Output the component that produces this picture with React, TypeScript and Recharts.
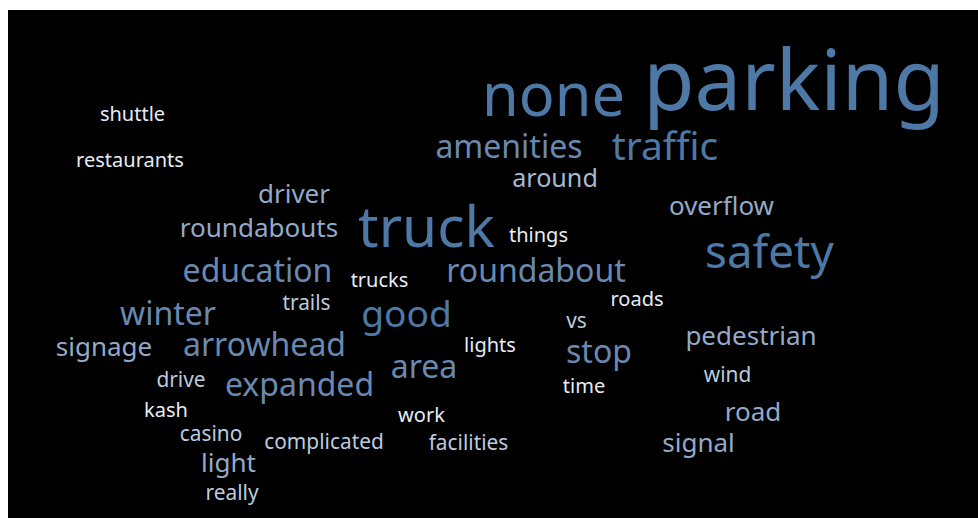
import React from 'react';
import { ScatterChart, Scatter, XAxis, YAxis } from 'recharts';

// word cloud: each word is a point, x = centre, y = baseline
const words = [
  'parking', 'none', 'traffic', 'amenities', 'around', 'shuttle', 'restaurants', 'driver',
  'roundabouts', 'education', 'truck', 'things', 'trucks', 'roundabout', 'good', 'safety',
  'overflow', 'roads', 'vs', 'stop', 'time', 'pedestrian', 'wind', 'road', 'signal',
  'winter', 'trails', 'signage', 'arrowhead', 'drive', 'expanded', 'kash', 'casino',
  'complicated', 'light', 'really', 'work', 'facilities', 'lights', 'area',
];
const counts = [
  84, 56, 32, 24, 16, 10, 10, 17,
  17, 24, 53, 10, 10, 24, 30, 40,
  17, 10, 11, 24, 10, 17, 11, 17, 17,
  24, 11, 17, 24, 11, 24, 10, 11,
  11, 17, 11, 10, 11, 10, 24,
];
const xs = [
  786, 545.5, 657, 501, 547, 124.5, 122, 286,
  251, 249.5, 418.5, 530.5, 371.5, 528, 398.5, 761.5,
  713.5, 629, 568.5, 591, 576, 743, 719.5, 745, 690.5,
  160, 298.5, 96, 256.5, 173, 291.5, 158, 203,
  316, 220.5, 224, 413.5, 460.5, 482, 416,
];
const ys = [
  100, 106, 150, 148, 177, 111, 157, 193,
  227, 272, 237, 232, 277, 272, 317, 258,
  205, 296, 318, 353, 383, 335, 372, 411, 442,
  315, 300, 346, 346, 377, 386, 407, 431,
  439, 462, 490, 412, 440, 342, 368,
];

const data = words.map((w, i) => ({ word: w, count: counts[i], x: xs[i], y: ys[i] }));

const W = 970;
const H = 508;

const fontSize = (c: number) => 20 + (c - 10) * (6 / 7);

const colorStops: [number, string][] = [
  [10, '#e6ecf4'],
  [11, '#bccbdf'],
  [16, '#a6b9d2'],
  [17, '#93aac8'],
  [24, '#6a89b0'],
  [30, '#4e79a7'],
];

const hex = (s: string) => [1, 3, 5].map((i) => parseInt(s.slice(i, i + 2), 16));

const colorFor = (c: number) => {
  if (c <= colorStops[0][0]) return colorStops[0][1];
  for (let i = 1; i < colorStops.length; i++) {
    const [c1, h1] = colorStops[i];
    if (c <= c1) {
      const [c0, h0] = colorStops[i - 1];
      const t = (c - c0) / (c1 - c0);
      const a = hex(h0);
      const b = hex(h1);
      const rgb = a.map((v, k) => Math.round(v + (b[k] - v) * t));
      return `rgb(${rgb[0]},${rgb[1]},${rgb[2]})`;
    }
  }
  return colorStops[colorStops.length - 1][1];
};

const Word = (props: any) => {
  const { cx, cy, payload } = props;
  if (cx == null || cy == null) return null;
  return (
    <text
      x={cx}
      y={cy}
      textAnchor="middle"
      fontFamily="'Noto Sans', sans-serif"
      fontSize={fontSize(payload.count)}
      fill={colorFor(payload.count)}
    >
      {payload.word}
    </text>
  );
};

const App: React.FC = () => {
  return (
    <div style={{ position: 'fixed', left: 8, top: 10, width: W, height: H, background: '#000' }}>
      <ScatterChart width={W} height={H} margin={{ top: 0, right: 0, bottom: 0, left: 0 }}>
        <XAxis type="number" dataKey="x" domain={[0, W]} hide allowDataOverflow />
        <YAxis type="number" dataKey="y" domain={[0, H]} reversed hide allowDataOverflow />
        <Scatter data={data} shape={Word} isAnimationActive={false} />
      </ScatterChart>
    </div>
  );
};

export default App;
